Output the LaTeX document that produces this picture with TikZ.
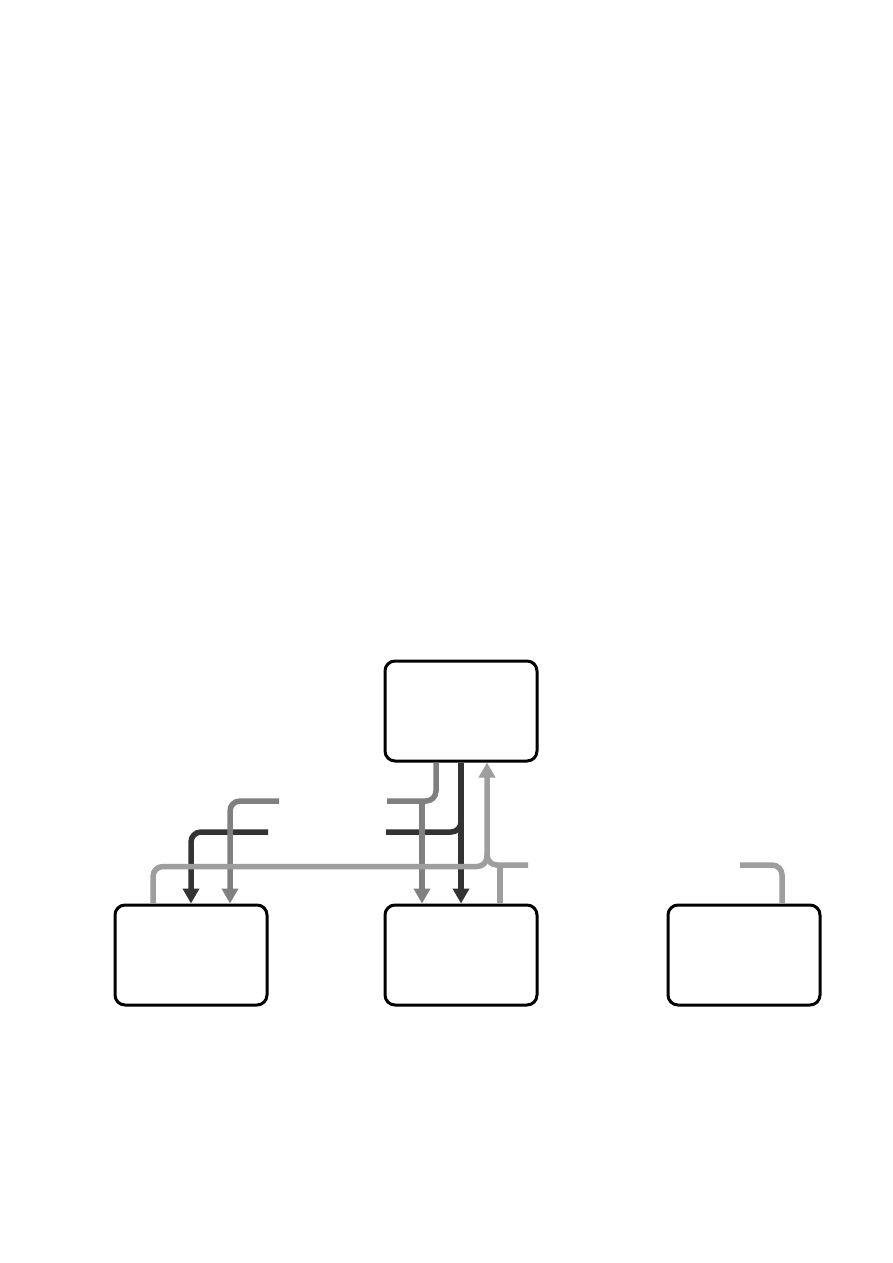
\documentclass[tikz,border=0pt]{standalone}
\usetikzlibrary{arrows.meta,calc}
\definecolor{cdark}{HTML}{333333}
\definecolor{cmid}{HTML}{808080}
\definecolor{clight}{HTML}{9E9E9E}
\begin{document}
\begin{tikzpicture}[x=1pt,y=-1pt,
  box/.style={draw=black,line width=3pt,rounded corners=10pt,minimum width=152pt,minimum height=100pt,inner sep=0pt,fill=white},
  wire/.style={line width=5.5pt,rounded corners=10pt},
  tip/.style={-{Triangle[length=15pt,width=16pt]}}]
\useasboundingbox[fill=white] (0,0) rectangle (893,1263);
\node[box] (top) at (461,711) {};
\node[box] (bl) at (191,955) {};
\node[box] (bm) at (461,955) {};
\node[box] (br) at (744,955) {};
% free ends
\coordinate (dl) at (268,832);
\coordinate (ml) at (279,801);
\coordinate (dm) at (386,832);
\coordinate (mm) at (387,801);
\coordinate (lr) at (528,865);
\coordinate (rr) at (740,865);
\coordinate (jm) at ($(bm.north)+(-39,0)$);
% dark
\draw[wire,cdark,tip] (dl) -| (bl.north);
\draw[wire,cdark,tip] (top.south) -- (bm.north);
\draw[wire,cdark] (dm) -| ($(top.south)+(0,55)$);
% mid
\draw[wire,cmid,tip] (ml) -| ($(bl.north)+(39,0)$);
\draw[wire,cmid] ($(top.south)+(-25,0)$) |- (mm);
\draw[wire,cmid,tip] (jm |- mm) -- (jm);
% light
\draw[wire,clight,tip] ($(bl.north)+(-38,0)$) |- ($(top.south)+(26,104)$) -- ($(top.south)+(26,0)$);
\draw[wire,clight] (lr) -| ($(top.south)+(26,90)$);
\draw[wire,clight] ($(bm.north)+(39,0)$) -- ($(bm.north)+(39,-40)$);
\draw[wire,clight] (rr) -| ($(br.north)+(38,0)$);
\end{tikzpicture}
\end{document}
